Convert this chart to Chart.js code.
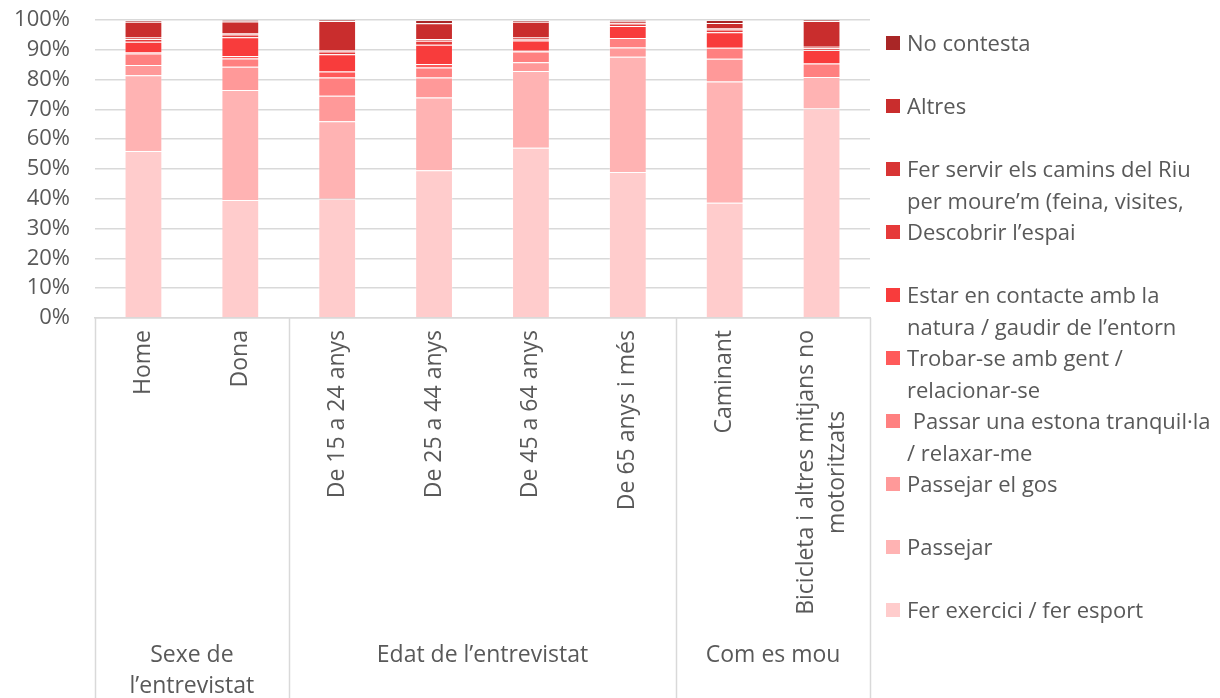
<!DOCTYPE html>
<html>
<head>
<meta charset="utf-8">
<script src="https://cdn.jsdelivr.net/npm/chart.js@4"></script>
<style>
  body { margin: 0; background: #fff; }
  #wrap { position: relative; width: 1220px; height: 698px; }
  #legend { position: absolute; left: 886px; top: 27px; width: 334px; font-family: "Open Sans", sans-serif; font-size: 22px; color: #595959; }
  .item { position: relative; height: 63px; line-height: 31.5px; overflow: hidden; }
  .box { position: absolute; left: 0; top: 9px; width: 14px; height: 14px; }
  .txt { margin-left: 21px; white-space: pre-wrap; }
</style>
</head>
<body>
<div id="wrap">
  <canvas id="chart" width="1220" height="698"></canvas>
  <div id="legend"></div>
</div>
<script>
const categories = ["Home", "Dona", "De 15 a 24 anys", "De 25 a 44 anys", "De 45 a 64 anys", "De 65 anys i més", "Caminant", ["Bicicleta i altres mitjans no", "motoritzats"]];
const groupLabels = [["Sexe de", "l’entrevistat"], ["Edat de l’entrevistat"], ["Com es mou"]];
const groupSizes = [2, 4, 2];
const yTicks = [0, 10, 20, 30, 40, 50, 60, 70, 80, 90, 100];

// series, bottom to top
const seriesNames = [
  "Fer exercici / fer esport",
  "Passejar",
  "Passejar el gos",
  " Passar una estona tranquil·la / relaxar-me",
  "Trobar-se amb gent / relacionar-se",
  "Estar en contacte amb la natura / gaudir de l’entorn",
  "Descobrir l’espai",
  "Fer servir els camins del Riu per moure’m (feina, visites,",
  "Altres",
  "No contesta"
];
const seriesColors = ["#FFCCCC", "#FFB3B3", "#FF9999", "#FF8080", "#FF5A5A", "#F83C3C", "#E63A3A", "#D83434", "#C92D2D", "#A92626"];

const ferExercici = [56.0, 39.6, 40.0, 49.6, 57.1, 49.0, 38.7, 70.3];
const passejar    = [25.5, 36.9, 26.0, 24.4, 25.8, 38.7, 40.7, 10.6];
const passejarGos = [3.4, 7.8, 8.6, 6.7, 2.9, 3.1, 7.6, 0];
const passarEstona = [3.9, 2.8, 6.1, 3.4, 3.6, 3.2, 3.7, 4.5];
const trobarGent  = [0.3, 0.8, 2.0, 1.1, 0.3, 0, 0, 0];
const natura      = [3.6, 6.3, 5.8, 6.5, 3.4, 4.0, 5.2, 4.5];
const descobrir   = [0.9, 0.9, 0.9, 1.3, 0.5, 0.8, 0.9, 0.6];
const ferServir   = [0.5, 0.4, 0.5, 0.6, 0.5, 0.2, 0.5, 0.5];
const altres      = [5.3, 4.0, 9.8, 5.3, 5.3, 0.5, 1.7, 8.7];
const noContesta  = [0.6, 0.5, 0.3, 1.1, 0.6, 0.5, 1.0, 0.3];

const seriesValues = [ferExercici, passejar, passejarGos, passarEstona, trobarGent, natura, descobrir, ferServir, altres, noContesta];

const textColor = "#595959";
const lineColor = "#D9D9D9";
const fontFamily = "'Open Sans', sans-serif";

// category and group labels under the plot
const axisLabels = {
  id: "axisLabels",
  afterDraw(chart) {
    const ctx = chart.ctx;
    const x = chart.scales.x;
    const area = chart.chartArea;
    const bottom = area.bottom;
    const centers = categories.map((c, i) => x.getPixelForTick(i));

    // separators
    const bounds = [area.left];
    let idx = 0;
    groupSizes.forEach((n, g) => {
      idx += n;
      if (g < groupSizes.length - 1) bounds.push((centers[idx - 1] + centers[idx]) / 2);
    });
    bounds.push(area.right);
    ctx.save();
    ctx.strokeStyle = lineColor;
    ctx.lineWidth = 1.5;
    bounds.forEach((bx) => {
      ctx.beginPath();
      ctx.moveTo(Math.round(bx) + 0.5, bottom);
      ctx.lineTo(Math.round(bx) + 0.5, chart.height);
      ctx.stroke();
    });

    // rotated category labels
    ctx.fillStyle = textColor;
    ctx.font = "23px " + fontFamily;
    ctx.textBaseline = "middle";
    ctx.textAlign = "center";
    categories.forEach((c, i) => {
      const lines = Array.isArray(c) ? c : [c];
      const maxW = Math.max(...lines.map((l) => ctx.measureText(l).width));
      ctx.save();
      ctx.translate(centers[i], bottom + 12);
      ctx.rotate(-Math.PI / 2);
      lines.forEach((l, k) => {
        ctx.fillText(l, -maxW / 2, (k - (lines.length - 1) / 2) * 31);
      });
      ctx.restore();
    });

    // group labels
    groupLabels.forEach((lines, g) => {
      const cx = (bounds[g] + bounds[g + 1]) / 2;
      lines.forEach((l, k) => {
        ctx.fillText(l, cx, 655 + k * 31);
      });
    });
    ctx.restore();
  }
};

new Chart(document.getElementById("chart"), {
  type: "bar",
  data: {
    labels: categories,
    datasets: seriesNames.map((name, i) => ({
      label: name,
      data: seriesValues[i],
      backgroundColor: seriesColors[i],
      borderColor: "rgba(255,255,255,0.22)",
      borderWidth: 1,
      barPercentage: 0.39,
      categoryPercentage: 1
    }))
  },
  options: {
    responsive: false,
    animation: false,
    layout: { padding: { top: 20, right: 350, bottom: 380, left: 0 } },
    plugins: { legend: { display: false }, tooltip: { enabled: false } },
    scales: {
      x: {
        stacked: true,
        grid: { display: false },
        border: { color: lineColor, width: 1.5 },
        ticks: { display: false },
        afterFit(scale) { scale.height = 0; }
      },
      y: {
        stacked: true,
        min: 0,
        max: 100,
        afterBuildTicks(scale) { scale.ticks = yTicks.map((v) => ({ value: v })); },
        afterFit(scale) { scale.width = 95; scale.paddingTop = 0; scale.paddingBottom = 0; },
        grid: { color: lineColor, lineWidth: 1.5, drawTicks: false },
        border: { display: false },
        ticks: {
          padding: 25,
          color: textColor,
          font: { family: fontFamily, size: 22 },
          callback: (v) => v + "%"
        }
      }
    }
  },
  plugins: [axisLabels]
});

// legend, top entry is the last series
const legend = document.getElementById("legend");
seriesNames.slice().reverse().forEach((name, k) => {
  const i = seriesNames.length - 1 - k;
  const item = document.createElement("div");
  item.className = "item";
  item.innerHTML = '<span class="box" style="background:' + seriesColors[i] + '"></span><div class="txt"></div>';
  item.querySelector(".txt").textContent = name;
  legend.appendChild(item);
});
</script>
</body>
</html>
